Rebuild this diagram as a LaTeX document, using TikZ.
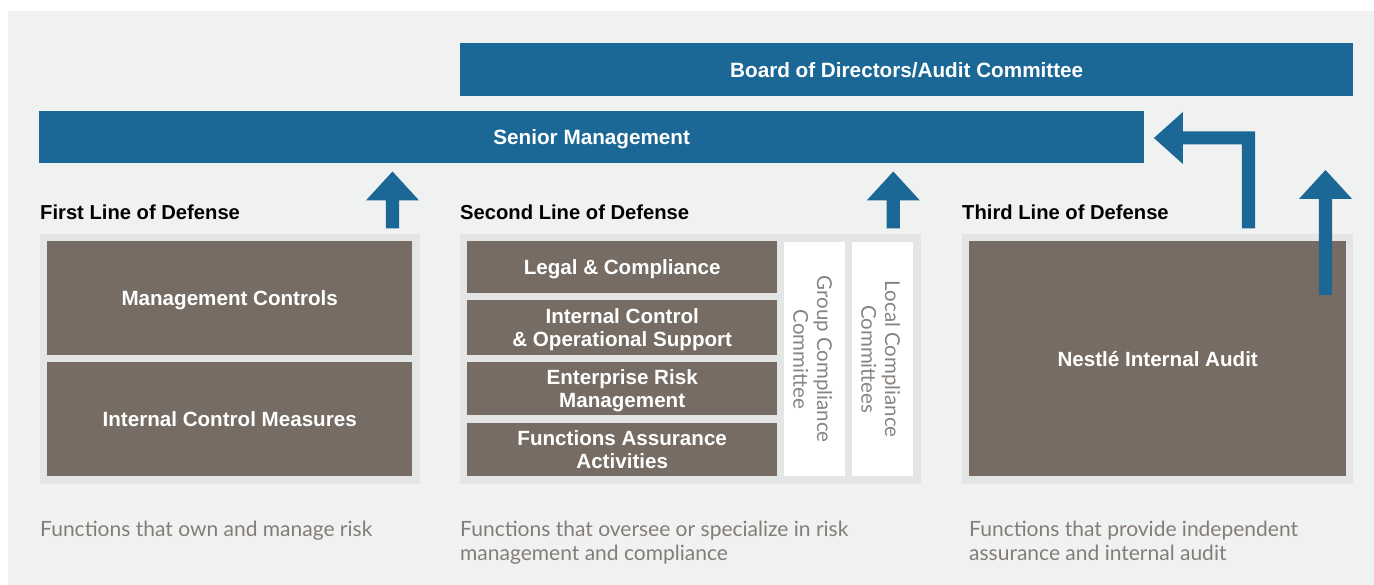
\documentclass[tikz,border=0pt]{standalone}
\usepackage{fontspec}
\setmainfont{Lato}
\newfontfamily\hdfont{Liberation Sans}
\usetikzlibrary{calc}
\definecolor{bgc}{HTML}{F0F2F2}
\definecolor{panelc}{HTML}{E4E5E5}
\definecolor{bluec}{HTML}{1B6896}
\definecolor{brownc}{HTML}{766C63}
\definecolor{greytxt}{HTML}{847C76}
\definecolor{coltxt}{HTML}{8A8480}
\tikzset{
  bar/.style={fill=bluec, draw=none, inner sep=0pt, font=\hdfont\bfseries\fontsize{20.7}{24}\selectfont, text=white, align=center, text depth=0pt},
  panel/.style={fill=panelc, draw=none, inner sep=0pt},
  brownbox/.style={fill=brownc, draw=none, inner sep=0pt, font=\hdfont\bfseries\fontsize{20.6}{23.6}\selectfont, text=white, align=center, text depth=0pt},
  colbox/.style={fill=white, draw=none, inner sep=0pt},
  coltext/.style={rotate=-90, font=\fontsize{20.5}{23.6}\selectfont, text=coltxt, align=center, inner sep=0pt},
  heading/.style={anchor=west, font=\hdfont\bfseries\fontsize{20.2}{24}\selectfont, text=black, inner sep=0pt, text depth=0pt},
  note/.style={anchor=north west, font=\fontsize{21}{24}\selectfont, text=greytxt, align=left, inner sep=0pt},
  blockarrow/.style={fill=bluec, draw=none}
}
\begin{document}
\begin{tikzpicture}[x=1pt,y=-1pt]
\useasboundingbox (0,0) rectangle (1374,585);
\fill[white] (0,0) rectangle (1374,585);
\fill[bgc] (8,11) rectangle (1374,585);

% top bars
\node[bar, minimum width=893pt, minimum height=53pt, anchor=north west] (board) at (460,43) {Board of Directors/Audit Committee};
\node[bar, minimum width=1105pt, minimum height=52pt, anchor=north west] (senior) at (39,111) {Senior Management};

% headings
\node[heading] (h1) at (40,212) {First Line of Defense};
\node[heading] (h2) at (460,212) {Second Line of Defense};
\node[heading] (h3) at (962,212) {Third Line of Defense};

% panels
\node[panel, minimum width=380pt, minimum height=250pt, anchor=north west] (p1) at (40,234) {};
\node[panel, minimum width=461pt, minimum height=250pt, anchor=north west] (p2) at (460,234) {};
\node[panel, minimum width=391pt, minimum height=250pt, anchor=north west] (p3) at (962,234) {};

% first line boxes
\node[brownbox, minimum width=365pt, minimum height=114pt, anchor=north west] (mc) at (47,241) {Management Controls};
\node[brownbox, minimum width=365pt, minimum height=114pt, anchor=north west] (icm) at (47,362) {Internal Control Measures};

% second line boxes
\node[brownbox, minimum width=310pt, minimum height=52pt, anchor=north west] (lc) at (467,241) {Legal \& Compliance};
\node[brownbox, minimum width=310pt, minimum height=55pt, anchor=north west] (ic) at (467,300) {Internal Control\\\& Operational Support};
\node[brownbox, minimum width=310pt, minimum height=53pt, anchor=north west] (erm) at (467,362) {Enterprise Risk\\Management};
\node[brownbox, minimum width=310pt, minimum height=53pt, anchor=north west] (fa) at (467,423) {Functions Assurance\\Activities};

\node[colbox, minimum width=61pt, minimum height=234pt, anchor=north west] (gcc) at (784,242) {};
\node[colbox, minimum width=61pt, minimum height=234pt, anchor=north west] (lcc) at (852,242) {};
\node[coltext] (gcct) at ($(gcc.center)+(-2,0)$) {Group Compliance\\Committee};
\node[coltext] (lcct) at ($(lcc.center)+(-2,0)$) {Local Compliance\\Committees};

% third line box
\node[brownbox, minimum width=377pt, minimum height=235pt, anchor=north west] (nia) at (969,241) {Nestlé Internal Audit};

% notes
\node[note] (n1) at (40,521) {Functions that own and manage risk};
\node[note] (n2) at (460,521) {Functions that oversee or specialize in risk\\management and compliance};
\node[note] (n3) at (969,521) {Functions that provide independent\\assurance and internal audit};

% arrows
\coordinate (a1) at (392.5,228.5);
\coordinate (a2) at (893.3,228.5);
\coordinate (a3) at (1325.5,295);
\fill[blockarrow] (a1) ++(-6.6,0) -- ++(0,-28) -- ++(-20,0) -- ++(26.6,-29) -- ++(26.6,29) -- ++(-20,0) -- ++(0,28) -- cycle;
\fill[blockarrow] (a2) ++(-6.6,0) -- ++(0,-28) -- ++(-20,0) -- ++(26.6,-29) -- ++(26.6,29) -- ++(-20,0) -- ++(0,28) -- cycle;
\fill[blockarrow] (a3) ++(-6.6,0) -- ++(0,-96) -- ++(-20,0) -- ++(26.6,-29) -- ++(26.6,29) -- ++(-20,0) -- ++(0,96) -- cycle;
\coordinate (e1) at (1248.5,228.5);
\fill[blockarrow] (e1) ++(-6.6,0) -- ++(0,-84) -- ++(-59,0) -- ++(0,19.5) -- ++(-29,-26) -- ++(29,-26) -- ++(0,19.5) -- ++(72.2,0) -- ++(0,97) -- cycle;
\end{tikzpicture}
\end{document}
